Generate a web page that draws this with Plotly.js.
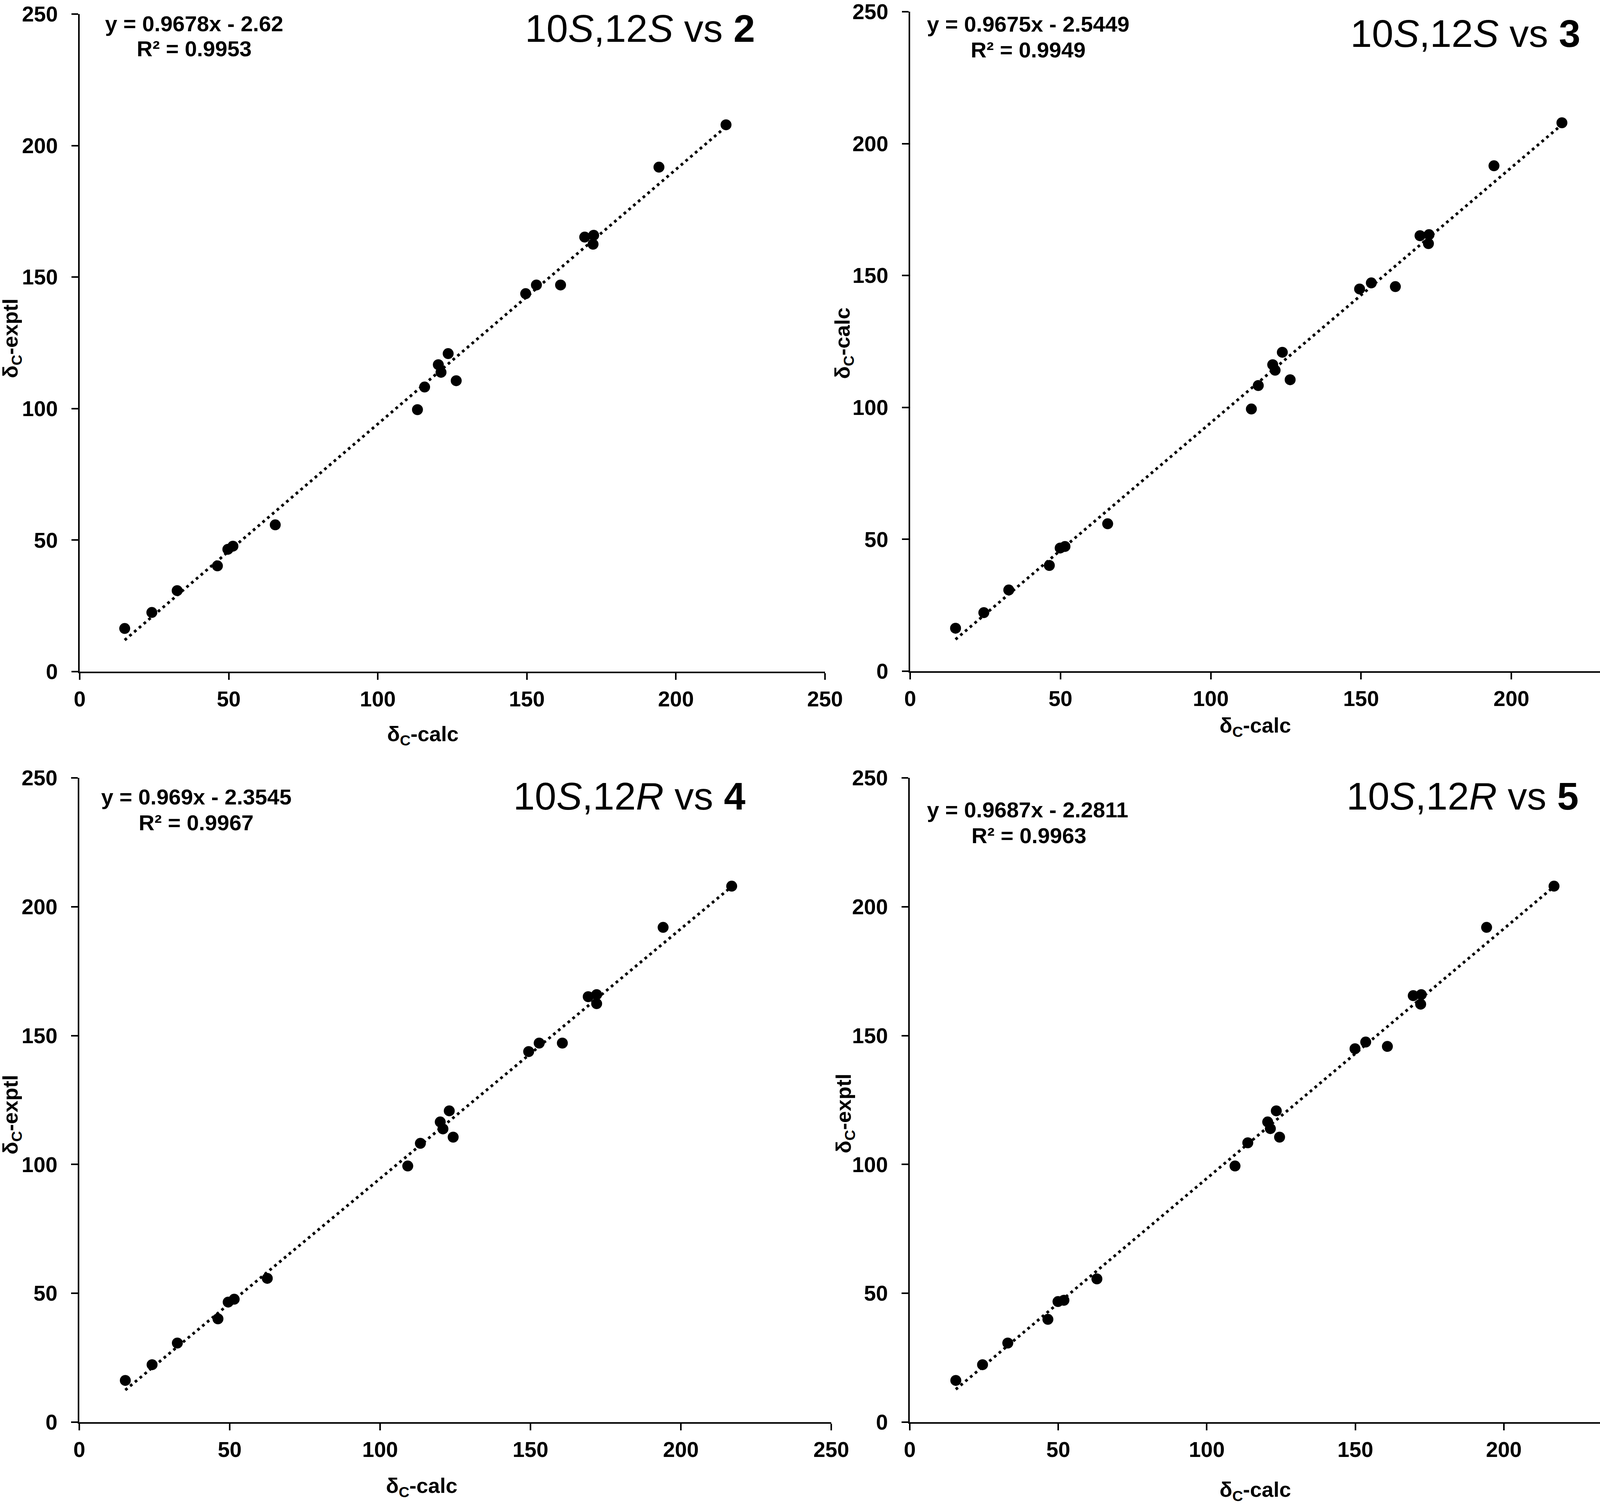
<!DOCTYPE html>
<html>
<head>
<meta charset="utf-8">
<script src="https://cdn.plot.ly/plotly-3.0.1.min.js"></script>
<style>
  html, body { margin: 0; padding: 0; background: #ffffff; overflow: hidden; }
  #chart { width: 4302px; height: 3852px; }
</style>
</head>
<body>
<div id="chart"></div>
<script>
// ---------------- data ----------------
const panelTitles = [
  "10<i>S</i>,12<i>S</i> vs <b>2</b>",
  "10<i>S</i>,12<i>S</i> vs <b>3</b>",
  "10<i>S</i>,12<i>R</i> vs <b>4</b>",
  "10<i>S</i>,12<i>R</i> vs <b>5</b>"
];
const xTitles = ["δ<sub>C</sub>-calc", "δ<sub>C</sub>-calc", "δ<sub>C</sub>-calc", "δ<sub>C</sub>-calc"];
const yTitles = ["δ<sub>C</sub>-exptl", "δ<sub>C</sub>-calc", "δ<sub>C</sub>-exptl", "δ<sub>C</sub>-exptl"];

const calc2  = [15.1, 24.2, 32.7, 46.2, 49.7, 51.4, 65.6, 113.3, 115.7, 120.3, 121.2, 123.6, 126.3, 149.6, 153.2, 161.3, 169.4, 172.4, 172.2, 194.3, 216.8];
const exptl2 = [16.4, 22.5, 30.8, 40.2, 46.5, 47.7, 55.8, 99.6, 108.2, 116.7, 113.8, 120.9, 110.6, 143.7, 147.0, 147.0, 165.2, 165.9, 162.5, 191.8, 207.9];

const calc3  = [15.1, 24.5, 32.8, 46.3, 49.9, 51.5, 65.7, 113.5, 115.8, 120.6, 121.4, 123.8, 126.4, 149.5, 153.4, 161.4, 169.6, 172.6, 172.4, 194.2, 216.8];
const exptl3 = [16.3, 22.2, 30.8, 40.1, 46.7, 47.3, 55.9, 99.4, 108.3, 116.2, 114.1, 120.9, 110.5, 144.9, 147.2, 145.8, 165.1, 165.5, 162.1, 191.6, 207.9];

const calc4  = [15.3, 24.2, 32.6, 46.1, 49.5, 51.5, 62.5, 109.2, 113.4, 120.0, 120.9, 123.0, 124.3, 149.4, 152.9, 160.6, 169.2, 172.0, 172.0, 194.1, 216.9];
const exptl4 = [16.2, 22.3, 30.7, 40.1, 46.6, 47.7, 55.8, 99.4, 108.2, 116.5, 113.8, 120.8, 110.6, 143.8, 147.1, 147.1, 165.1, 165.9, 162.4, 192.0, 208.0];

const calc5  = [15.5, 24.5, 33.0, 46.5, 49.9, 51.9, 63.0, 109.5, 113.8, 120.5, 121.4, 123.4, 124.5, 149.9, 153.5, 160.8, 169.5, 172.2, 172.0, 194.2, 216.9];
const exptl5 = [16.2, 22.3, 30.7, 39.9, 46.8, 47.3, 55.6, 99.4, 108.4, 116.5, 113.9, 120.8, 110.6, 144.9, 147.5, 145.8, 165.5, 165.9, 162.2, 192.0, 208.0];

const slopes     = [0.9678, 0.9675, 0.969, 0.9687];
const intercepts = [-2.62, -2.5449, -2.3545, -2.2811];
const eqTexts = ["y = 0.9678x - 2.62", "y = 0.9675x - 2.5449", "y = 0.969x - 2.3545", "y = 0.9687x - 2.2811"];
const r2Texts = ["R² = 0.9953", "R² = 0.9949", "R² = 0.9967", "R² = 0.9963"];

const tickValues = [0, 50, 100, 150, 200, 250];
const tickLabels = ["0", "50", "100", "150", "200", "250"];

// ---------------- layout geometry (pixels in a 4302 x 3852 canvas) ----------------
const W = 4302, H = 3852;
const fx = p => p / W;
const fy = p => 1 - p / H;

const panels = [
  { calc: calc2, exptl: exptl2, left: 204,  right: 2112, top: 36,   bottom: 1719,
    title: [1638, 72],  eq: [497, 60],   r2: [497, 125],  xt: [1082, 1882], yt: [30, 866] },
  { calc: calc3, exptl: exptl3, left: 2330, right: 4254, top: 30,   bottom: 1718,
    title: [3751, 86],  eq: [2632, 62],  r2: [2632, 127], xt: [3213, 1860], yt: [2160, 879] },
  { calc: calc4, exptl: exptl4, left: 203,  right: 2128, top: 1991, bottom: 3640,
    title: [1611, 2038], eq: [502, 2040], r2: [502, 2105], xt: [1079, 3806], yt: [30, 2853] },
  { calc: calc5, exptl: exptl5, left: 2329, right: 4230, top: 1991, bottom: 3640,
    title: [3744, 2038], eq: [2630, 2072], r2: [2634, 2138], xt: [3213, 3816], yt: [2163, 2850] }
];

const FONT = "Liberation Sans, Arial, sans-serif";
const traces = [];
const annotations = [];
const layout = {
  width: W, height: H,
  margin: { l: 0, r: 0, t: 0, b: 0, pad: 0 },
  paper_bgcolor: "#ffffff",
  plot_bgcolor: "#ffffff",
  showlegend: false,
  font: { family: FONT, color: "#000000" }
};

panels.forEach((p, i) => {
  const n = i + 1;
  const xa = n === 1 ? "x" : "x" + n;
  const ya = n === 1 ? "y" : "y" + n;
  const axCommon = {
    range: [0, 250],
    tickmode: "array",
    tickvals: tickValues,
    ticktext: tickLabels,
    showgrid: false,
    zeroline: false,
    showline: true,
    linecolor: "#000000",
    linewidth: 4,
    ticks: "outside",
    ticklen: 17,
    tickwidth: 4,
    tickcolor: "#000000",
    ticklabeloverflow: "allow",
    tickfont: { family: FONT, size: 55, color: "#000000", weight: "bold" },
    fixedrange: true
  };
  layout["xaxis" + (n === 1 ? "" : n)] = Object.assign({}, axCommon, {
    domain: [fx(p.left), fx(p.right)],
    anchor: ya,
    ticklabelstandoff: 2
  });
  layout["yaxis" + (n === 1 ? "" : n)] = Object.assign({}, axCommon, {
    domain: [fy(p.bottom), fy(p.top)],
    anchor: xa,
    ticklabelstandoff: 24
  });

  // data points
  traces.push({
    type: "scatter", mode: "markers",
    x: p.calc, y: p.exptl, xaxis: xa, yaxis: ya,
    marker: { color: "#000000", size: 28, line: { width: 0 } },
    hoverinfo: "x+y"
  });
  // linear trendline over the data range
  const xmin = Math.min(...p.calc), xmax = Math.max(...p.calc);
  traces.push({
    type: "scatter", mode: "lines",
    x: [xmin, xmax],
    y: [slopes[i] * xmin + intercepts[i], slopes[i] * xmax + intercepts[i]],
    xaxis: xa, yaxis: ya,
    line: { color: "#000000", width: 7, dash: "7px,9px" },
    hoverinfo: "skip"
  });

  // panel title
  annotations.push({
    xref: "paper", yref: "paper", x: fx(p.title[0]), y: fy(p.title[1]),
    xanchor: "center", yanchor: "middle", showarrow: false,
    text: panelTitles[i],
    font: { family: FONT, size: 99, color: "#000000" }
  });
  // equation and R²
  annotations.push({
    xref: "paper", yref: "paper", x: fx(p.eq[0]), y: fy(p.eq[1]),
    xanchor: "center", yanchor: "middle", showarrow: false,
    text: "<b>" + eqTexts[i] + "</b>",
    font: { family: FONT, size: 56, color: "#000000" }
  });
  annotations.push({
    xref: "paper", yref: "paper", x: fx(p.r2[0]), y: fy(p.r2[1]),
    xanchor: "center", yanchor: "middle", showarrow: false,
    text: "<b>" + r2Texts[i] + "</b>",
    font: { family: FONT, size: 56, color: "#000000" }
  });
  // axis titles
  annotations.push({
    xref: "paper", yref: "paper", x: fx(p.xt[0]), y: fy(p.xt[1]),
    xanchor: "center", yanchor: "middle", showarrow: false,
    text: "<b>" + xTitles[i] + "</b>",
    font: { family: FONT, size: 54, color: "#000000" }
  });
  annotations.push({
    xref: "paper", yref: "paper", x: fx(p.yt[0]), y: fy(p.yt[1]),
    xanchor: "center", yanchor: "middle", showarrow: false, textangle: -90,
    text: "<b>" + yTitles[i] + "</b>",
    font: { family: FONT, size: 54, color: "#000000" }
  });
});

layout.annotations = annotations;

Plotly.newPlot("chart", traces, layout, { staticPlot: true, displayModeBar: false });
</script>
</body>
</html>
